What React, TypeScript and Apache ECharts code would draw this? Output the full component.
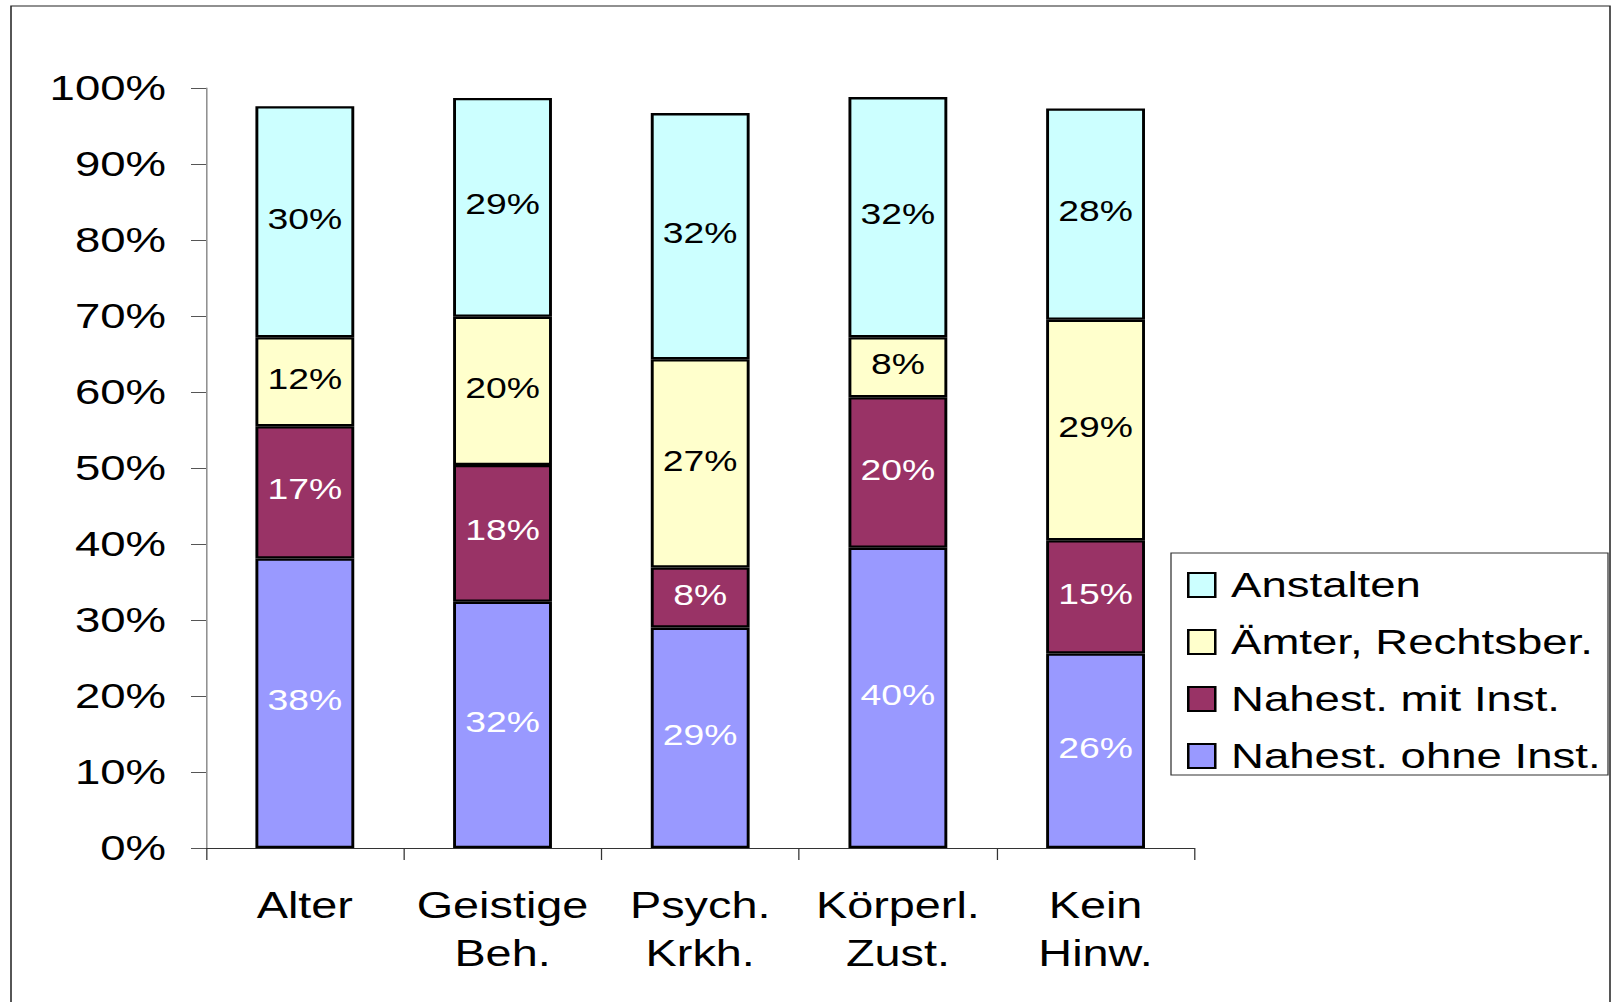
import React, { useEffect, useRef } from "react";
import * as echarts from "echarts";

const categories = ["Alter", "Geistige\nBeh.", "Psych.\nKrkh.", "Körperl.\nZust.", "Kein\nHinw."];
const seriesNames = ["Nahest. ohne Inst.", "Nahest. mit Inst.", "Ämter, Rechtsber.", "Anstalten"];
const nahestOhne = [38.1, 32.4, 29.0, 39.5, 25.6];
const nahestMit = [17.4, 18.0, 7.9, 19.8, 14.9];
const aemter = [11.7, 19.5, 27.4, 7.9, 29.0];
const anstalten = [30.4, 28.8, 32.4, 31.6, 27.8];
const seriesColors = ["#9999FF", "#993366", "#FFFFCC", "#CCFFFF"];
const labelColors = ["#FFFFFF", "#FFFFFF", "#000000", "#000000"];
const yTicks = [0, 100, 10];

const FONT = "'Liberation Sans', Arial, sans-serif";
// The reference drawing is stretched horizontally; render narrower and widen it.
const SX = 1.265;
const PAGE_W = 1615;
const PAGE_H = 1002;
const W = PAGE_W / SX;
const hx = (v: number) => v / SX;

export default function App() {
  const ref = useRef<HTMLDivElement>(null);
  useEffect(() => {
    document.body.style.margin = "0";
    const chart = echarts.init(ref.current!, undefined, { renderer: "svg" });
    const data = [nahestOhne, nahestMit, aemter, anstalten];
    chart.setOption({
      animation: false,
      backgroundColor: "#FFFFFF",
      textStyle: { fontFamily: FONT },
      grid: { left: hx(206), right: W - hx(1194), top: 88, bottom: 154, containLabel: false },
      graphic: [
        {
          type: "rect",
          shape: { x: hx(11), y: 6, width: hx(1599), height: 1020 },
          style: { fill: "none", stroke: "#222", lineWidth: 1.2 },
          silent: true,
        },
        {
          type: "rect",
          shape: { x: hx(1171), y: 553, width: hx(437), height: 222 },
          style: { fill: "none", stroke: "#333", lineWidth: 1 },
          silent: true,
        },
      ],
      legend: {
        orient: "vertical",
        left: hx(1187),
        top: 565,
        padding: 0,
        itemWidth: hx(27),
        itemHeight: 24,
        itemGap: 17,
        icon: "rect",
        data: [...seriesNames].reverse(),
        itemStyle: { borderColor: "#000", borderWidth: 2 },
        textStyle: {
          fontFamily: FONT,
          fontSize: 36,
          lineHeight: 40,
          color: "#000",
          padding: [0, 0, 0, 7.5],
        },
      },
      xAxis: {
        type: "category",
        data: categories,
        axisLine: { lineStyle: { color: "#333", width: 1 } },
        axisTick: { show: true, interval: 0, length: 12, lineStyle: { color: "#333" } },
        axisLabel: {
          interval: 0,
          fontFamily: FONT,
          fontSize: 37,
          lineHeight: 48,
          color: "#000",
          margin: 33,
        },
      },
      yAxis: {
        type: "value",
        min: yTicks[0],
        max: yTicks[1],
        interval: yTicks[2],
        splitLine: { show: false },
        axisLine: { show: true, lineStyle: { color: "#777", width: 1 } },
        axisTick: { show: true, length: hx(15), lineStyle: { color: "#555" } },
        axisLabel: {
          formatter: "{value}%",
          fontFamily: FONT,
          fontSize: 36,
          color: "#000",
          margin: hx(40),
        },
      },
      series: seriesNames.map((name, i) => ({
        name,
        type: "bar",
        stack: "total",
        barWidth: "50%",
        data: data[i],
        itemStyle: { color: seriesColors[i], borderColor: "#000", borderWidth: 2.3 },
        label: {
          show: true,
          position: "inside",
          offset: [0, -3],
          fontFamily: FONT,
          fontSize: 29.5,
          color: labelColors[i],
          formatter: (p: any) => Math.round(p.value) + "%",
        },
      })),
    });
    return () => chart.dispose();
  }, []);
  return (
    <div
      ref={ref}
      style={{
        position: "absolute",
        left: 0,
        top: 0,
        width: W,
        height: PAGE_H,
        transform: `scaleX(${SX})`,
        transformOrigin: "0 0",
      }}
    />
  );
}
